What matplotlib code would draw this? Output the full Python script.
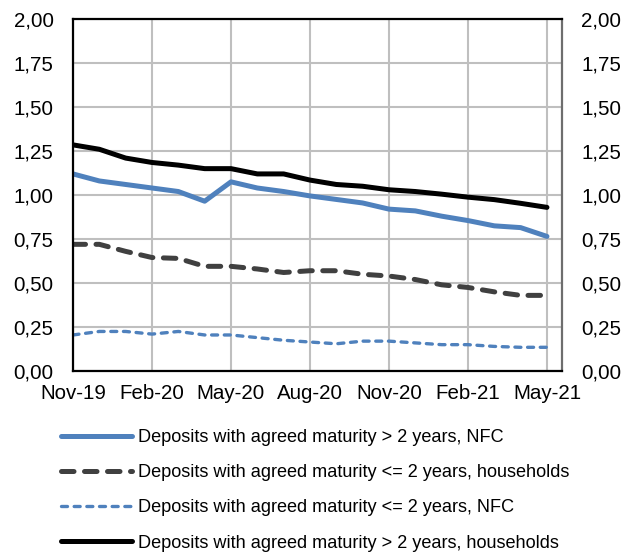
import numpy as np
import matplotlib.pyplot as plt

plt.rcParams['font.family'] = ['Liberation Sans', 'DejaVu Sans']

# Monthly data, Nov-19 .. May-21
months = ['Nov-19', 'Dec-19', 'Jan-20', 'Feb-20', 'Mar-20', 'Apr-20', 'May-20',
          'Jun-20', 'Jul-20', 'Aug-20', 'Sep-20', 'Oct-20', 'Nov-20', 'Dec-20',
          'Jan-21', 'Feb-21', 'Mar-21', 'Apr-21', 'May-21']
nfc_long = [1.12, 1.08, 1.06, 1.04, 1.02, 0.965, 1.075, 1.04, 1.02, 0.995,
            0.975, 0.955, 0.92, 0.91, 0.88, 0.855, 0.825, 0.815, 0.765]
hh_short = [0.72, 0.72, 0.68, 0.645, 0.64, 0.595, 0.595, 0.58, 0.56, 0.57,
            0.57, 0.55, 0.54, 0.52, 0.49, 0.475, 0.45, 0.43, 0.43]
nfc_short = [0.205, 0.225, 0.225, 0.21, 0.225, 0.205, 0.205, 0.19, 0.175, 0.165,
             0.155, 0.17, 0.17, 0.16, 0.15, 0.15, 0.14, 0.135, 0.135]
hh_long = [1.285, 1.26, 1.21, 1.185, 1.17, 1.15, 1.15, 1.12, 1.12, 1.085,
           1.06, 1.05, 1.03, 1.02, 1.005, 0.988, 0.974, 0.953, 0.93]

labels = ['Deposits with agreed maturity > 2 years, NFC',
          'Deposits with agreed maturity <= 2 years, households',
          'Deposits with agreed maturity <= 2 years, NFC',
          'Deposits with agreed maturity > 2 years, households']

x = np.arange(len(months))
blue = '#4F81BD'

fig, ax = plt.subplots(figsize=(6.3, 5.53), dpi=100)
fig.subplots_adjust(left=0.1159, right=0.892, top=0.9656, bottom=0.329)

ax.plot(x, nfc_long, color=blue, lw=3.6, label=labels[0], solid_capstyle='round')
ax.plot(x, hh_short, color='#404040', lw=3.6, ls=(0, (2.5, 2.1)),
        dash_capstyle='round', label=labels[1])
ax.plot(x, nfc_short, color=blue, lw=2.4, ls=(0, (1.8, 2.0)),
        dash_capstyle='round', label=labels[2])
ax.plot(x, hh_long, color='black', lw=3.6, label=labels[3], solid_capstyle='round')

ax.set_xlim(0, 18.57)
ax.set_ylim(0, 2)
yt = np.arange(0, 2.01, 0.25)
ytl = [f'{v:.2f}'.replace('.', ',') for v in yt]
ax.set_yticks(yt)
ax.set_yticklabels(ytl)
ax.set_xticks(x[::3])
ax.set_xticklabels(months[::3])
ax.grid(True, color='#BFBFBF', lw=1.5)
ax.set_axisbelow(True)
ax.tick_params(length=0, labelsize=14.8)
ax.tick_params(axis='y', pad=14)
ax.tick_params(axis='x', pad=9)
for s in ['top', 'left', 'bottom']:
    ax.spines[s].set_linewidth(1.6)
    ax.spines[s].set_color('black')
ax.spines['right'].set_linewidth(1.6)
ax.spines['right'].set_color('#6E6E6E')

ax2 = ax.twinx()
ax2.set_ylim(0, 2)
ax2.set_yticks(yt)
ax2.set_yticklabels(ytl)
ax2.tick_params(length=0, labelsize=14.8, pad=14)
for s in ax2.spines.values():
    s.set_visible(False)

fig.legend(loc='upper left', bbox_to_anchor=(61 / 630, 1 - 429 / 553), frameon=False,
           fontsize=13.1, handlelength=3.9, labelspacing=1.0, handletextpad=0.33,
           borderpad=0, borderaxespad=0)

fig.savefig('out.png', dpi=100)
